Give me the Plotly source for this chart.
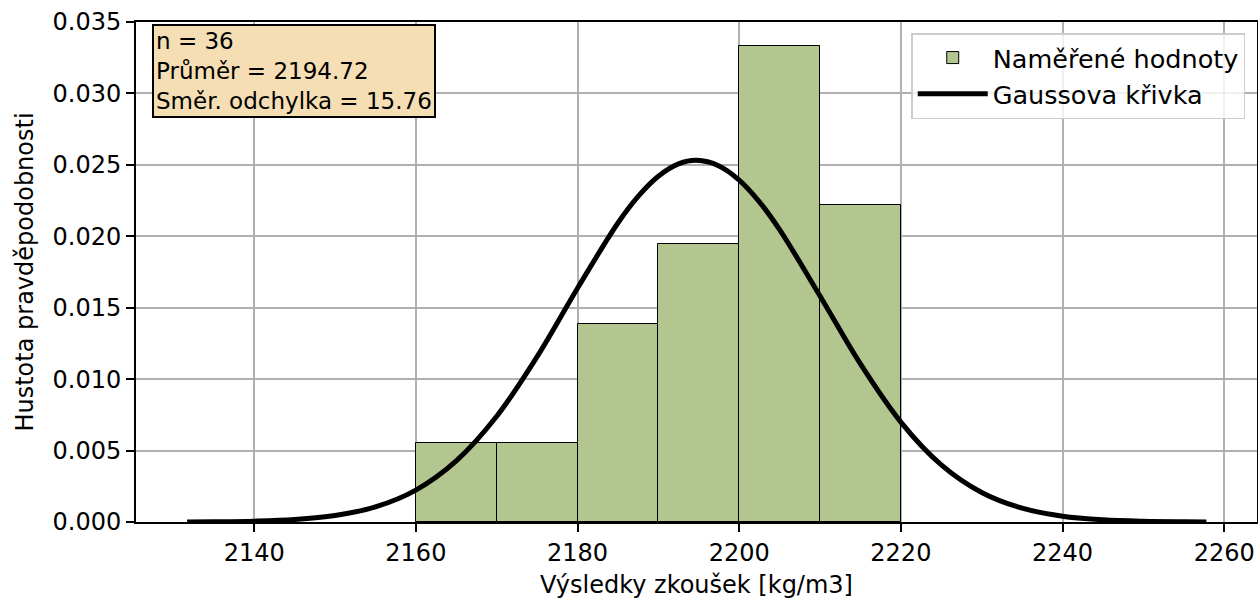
import plotly.graph_objects as go

# ---- data ----
bin_left = [2160, 2170, 2180, 2190, 2200, 2210]
bin_width = [10, 10, 10, 10, 10, 10]
density = [0.00556, 0.00556, 0.01389, 0.01944, 0.03333, 0.02222]

curve_x = [2131.7, 2135, 2140, 2145, 2150, 2155, 2160, 2165, 2170, 2175, 2180,
           2185, 2187.5, 2190, 2192.5, 2194.72, 2197.5, 2200, 2202.5, 2205, 2210,
           2215, 2220, 2225, 2230, 2235, 2240, 2245, 2250, 2255, 2257.8]
curve_y = [0.0000085, 0.0000193, 0.000061, 0.000175, 0.000452, 0.001057, 0.002236,
           0.004279, 0.007400, 0.011571, 0.016366, 0.020930, 0.022793, 0.024203,
           0.025064, 0.025314, 0.024923, 0.023932, 0.022411, 0.020464, 0.015822,
           0.011062, 0.006992, 0.003997, 0.002066, 0.000966, 0.000408, 0.000156,
           0.000054, 0.0000169, 0.0000085]

x_ticks = [2140, 2160, 2180, 2200, 2220, 2240, 2260]
y_ticks = [0.000, 0.005, 0.010, 0.015, 0.020, 0.025, 0.030, 0.035]

stats_text = "n = 36<br>Průměr = 2194.72<br>Směr. odchylka = 15.76"

FONT = "DejaVu Sans"

fig = go.Figure()
fig.add_trace(go.Bar(
    x=bin_left, y=density, width=bin_width, offset=0,
    marker=dict(color="#b4c68f", line=dict(color="black", width=1)),
    name="Naměřené hodnoty",
))
fig.add_trace(go.Scatter(
    x=curve_x, y=curve_y, mode="lines", line=dict(color="black", width=5, shape="spline"),
    name="Gaussova křivka",
))

axis_common = dict(
    showline=True, mirror=True, linecolor="black", linewidth=1.8,
    ticks="outside", ticklen=8, tickwidth=1.8, tickcolor="black",
    showgrid=True, gridcolor="#b0b0b0", gridwidth=1.6, zeroline=False,
    tickfont=dict(family=FONT, size=24, color="black"),
    automargin=False,
)

fig.update_layout(
    width=1258, height=602,
    margin=dict(l=136, r=1, t=22, b=80),
    paper_bgcolor="white", plot_bgcolor="white",
    bargap=0,
    font=dict(family=FONT, size=24, color="black"),
    xaxis=dict(range=[2125.38, 2264.06], tickvals=x_ticks,
               title=dict(text="Výsledky zkoušek [kg/m3]", font=dict(family=FONT, size=24), standoff=10),
               **axis_common),
    yaxis=dict(range=[0, 0.035], tickvals=y_ticks, tickformat=".3f",
               title=dict(text="Hustota pravděpodobnosti", font=dict(family=FONT, size=24), standoff=12),
               **axis_common),
    legend=dict(x=0.9895, y=0.978, xanchor="right", yanchor="top",
                bgcolor="rgba(255,255,255,0.8)", bordercolor="#cccccc", borderwidth=1.5,
                itemwidth=70, tracegroupgap=4,
                font=dict(family=FONT, size=25.5, color="black")),
    annotations=[dict(
        text=stats_text, xref="paper", yref="paper", x=0.0143, y=0.996,
        xanchor="left", yanchor="top", align="left", showarrow=False,
        font=dict(family=FONT, size=23, color="black"),
        bgcolor="#f5deb3", bordercolor="black", borderwidth=2, borderpad=2,
    )],
)

fig.write_html("out.html")
